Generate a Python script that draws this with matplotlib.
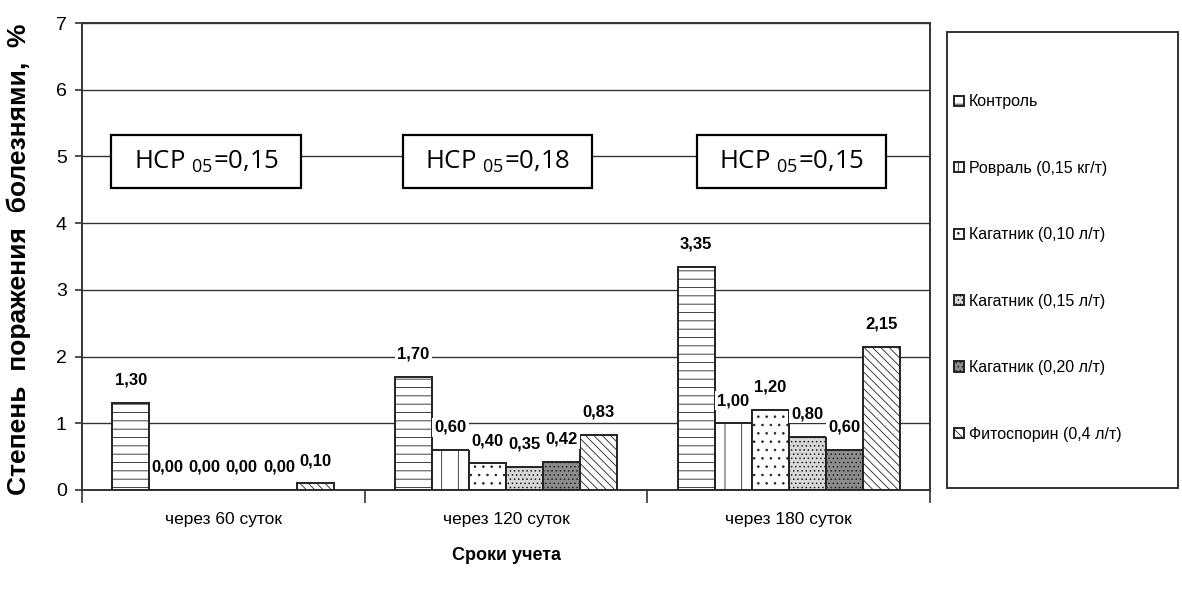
import matplotlib
matplotlib.use('Agg')
import matplotlib.pyplot as plt
import numpy as np
from matplotlib.patches import Rectangle

categories = ['через 60 суток', 'через 120 суток', 'через 180 суток']
series_names = ['Контроль', 'Ровраль (0,15 кг/т)', 'Кагатник (0,10 л/т)',
                'Кагатник (0,15 л/т)', 'Кагатник (0,20 л/т)', 'Фитоспорин (0,4 л/т)']
control = [1.30, 1.70, 3.35]
rovral = [0.00, 0.60, 1.00]
kag_010 = [0.00, 0.40, 1.20]
kag_015 = [0.00, 0.35, 0.80]
kag_020 = [0.00, 0.42, 0.60]
fitosporin = [0.10, 0.83, 2.15]
hsr_values = ['0,15', '0,18', '0,15']
yticks = [0, 1, 2, 3, 4, 5, 6, 7]

series_values = [control, rovral, kag_010, kag_015, kag_020, fitosporin]
styles = [('white', '--'), ('white', '|'), ('white', '..'),
          ('#d8d8d8', '....'), ('#8c8c8c', '....'), ('white', '\\\\\\\\')]

NARROW = ['Liberation Sans Narrow', 'Liberation Sans', 'DejaVu Sans']
REG = ['Liberation Sans', 'DejaVu Sans']
plt.rcParams['font.family'] = NARROW
plt.rcParams['hatch.linewidth'] = 0.6
plt.rcParams['mathtext.fontset'] = 'custom'

W, H = 1182, 590
fig = plt.figure(figsize=(W / 100, H / 100), dpi=100)
ax = fig.add_axes([82 / W, 1 - 490 / H, (930 - 82) / W, (490 - 23) / H])

x = np.arange(len(categories))
bw = 0.131
handles = []
for i, (name, vals) in enumerate(zip(series_names, series_values)):
    fc, hatch = styles[i]
    bars = ax.bar(x + (i - 2.5) * bw, vals, bw, color=fc, edgecolor='#222222',
                  hatch=hatch, linewidth=1.4, label=name, zorder=3)
    handles.append(bars)
    for xi, v in zip(x + (i - 2.5) * bw, vals):
        ax.annotate(f'{v:.2f}'.replace('.', ','), (xi, v), xytext=(0, 11),
                    textcoords='offset points', ha='center', va='bottom',
                    fontsize=12, fontweight='bold', family=NARROW, zorder=5,
                    bbox=dict(boxstyle='square,pad=0.12', fc='white', ec='none'))

ax.set_xlim(-0.5, 2.5)
ax.set_ylim(0, 7)
ax.set_yticks(yticks)
ax.set_yticklabels([str(t) for t in yticks], fontsize=14, family=REG)
ax.yaxis.grid(True, color='#333333', linewidth=1.0, zorder=0)
ax.set_axisbelow(True)
ax.set_xticks(x)
ax.set_xticklabels(categories, fontsize=12.5, family=NARROW)
ax.set_xticks([-0.5, 0.5, 1.5, 2.5], minor=True)
ax.tick_params(axis='x', which='major', length=0, pad=16)
ax.tick_params(axis='x', which='minor', length=9, width=1.2, color='#333333')
ax.tick_params(axis='y', length=5, width=1.2, color='#333333', pad=6)
for s in ax.spines.values():
    s.set_linewidth(1.4)
    s.set_color('#333333')

# НСР boxes
hsr_x = [-0.06, 0.97, 2.01]
for cx, val in zip(hsr_x, hsr_values):
    ax.add_patch(Rectangle((cx - 0.336, 4.53), 0.672, 0.79, fc='white',
                           ec='black', lw=1.6, zorder=6))
    ax.text(cx, 4.925, 'НСР $_{\\mathregular{05}}$=' + val, ha='center', va='center',
            fontsize=18.5, family=['Open Sans', 'DejaVu Sans'], zorder=7)

fig.text(19 / W, 1 - 259 / H, 'Степень  поражения  болезнями,  %', rotation=90,
         ha='center', va='center', fontsize=19, fontweight='bold', family=REG)
fig.text(506 / W, 1 - 556 / H, 'Сроки учета', ha='center', va='center',
         fontsize=13, fontweight='bold', family=NARROW)

# legend frame
fig.patches.append(Rectangle((947 / W, 1 - 488 / H), (1178 - 947) / W, (488 - 32) / H,
                             transform=fig.transFigure, fc='white', ec='#333333',
                             lw=1.4, zorder=0))
leg = fig.legend(handles=handles, labels=series_names, loc='upper left',
                 bbox_to_anchor=(940 / W, 1 - 80 / H), frameon=False,
                 handlelength=0.6, handleheight=0.6, handletextpad=0.3,
                 labelspacing=3.22, prop={'family': NARROW, 'size': 11.5})

fig.savefig('out.png', dpi=100)
